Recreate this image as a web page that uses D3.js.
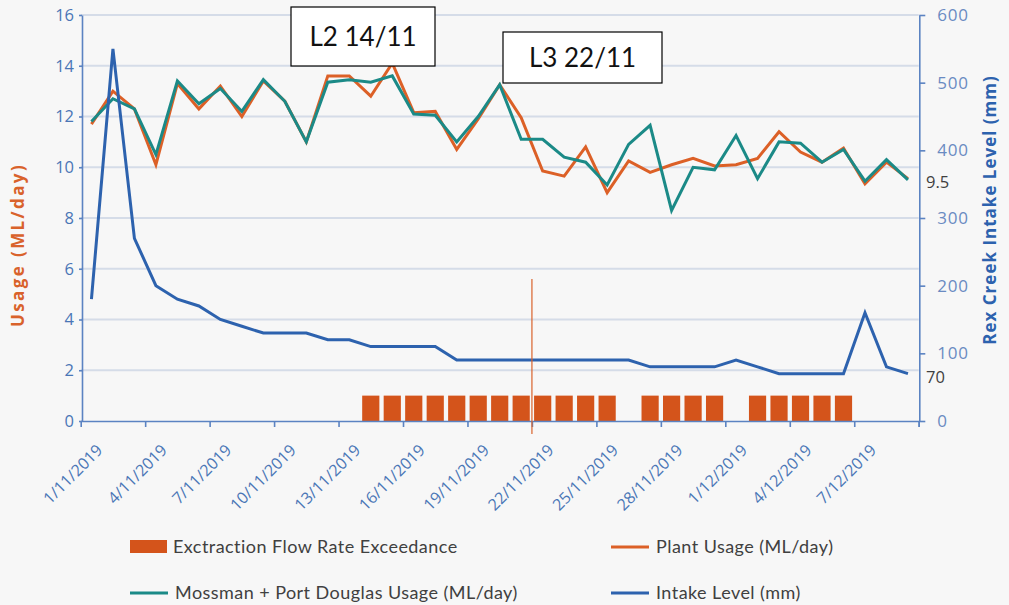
<!DOCTYPE html>
<html>
<head>
<meta charset="utf-8">
<script src="https://cdn.jsdelivr.net/npm/d3@7"></script>
<style>
  body { margin: 0; background: #f7f7f7; }
  svg { display: block; }
  .axis text { font-family: "Open Sans", sans-serif; }
</style>
</head>
<body>
<svg id="chart" width="1009" height="605"></svg>
<script>
const dates = [
  "1/11/2019", "2/11/2019", "3/11/2019", "4/11/2019", "5/11/2019", "6/11/2019", "7/11/2019",
  "8/11/2019", "9/11/2019", "10/11/2019", "11/11/2019", "12/11/2019", "13/11/2019", "14/11/2019",
  "15/11/2019", "16/11/2019", "17/11/2019", "18/11/2019", "19/11/2019", "20/11/2019", "21/11/2019",
  "22/11/2019", "23/11/2019", "24/11/2019", "25/11/2019", "26/11/2019", "27/11/2019", "28/11/2019",
  "29/11/2019", "30/11/2019", "1/12/2019", "2/12/2019", "3/12/2019", "4/12/2019", "5/12/2019",
  "6/12/2019", "7/12/2019", "8/12/2019", "9/12/2019"
];

const plantUsage = [
  11.7, 13.0, 12.3, 10.1, 13.3, 12.3, 13.2, 12.0, 13.4, 12.6,
  11.0, 13.6, 13.6, 12.8, 14.1, 12.15, 12.2, 10.7, 11.9, 13.25,
  11.95, 9.85, 9.65, 10.8, 9.0, 10.25, 9.8, 10.1, 10.35, 10.05,
  10.1, 10.35, 11.4, 10.6, 10.2, 10.75, 9.35, 10.2, 9.55
];

const mossmanUsage = [
  11.8, 12.7, 12.3, 10.5, 13.4, 12.5, 13.1, 12.2, 13.45, 12.6,
  11.0, 13.35, 13.45, 13.35, 13.6, 12.1, 12.05, 11.0, 12.0, 13.25,
  11.1, 11.1, 10.4, 10.2, 9.3, 10.9, 11.65, 8.3, 10.0, 9.9,
  11.25, 9.55, 11.0, 10.95, 10.2, 10.7, 9.45, 10.3, 9.5
];

const intakeLevel = [
  180, 550, 270, 200, 180, 170, 150, 140, 130, 130,
  130, 120, 120, 110, 110, 110, 110, 90, 90, 90,
  90, 90, 90, 90, 90, 90, 80, 80, 80, 80,
  90, 80, 70, 70, 70, 70, 160, 80, 70
];

// 1 = extraction flow rate exceeded that day
const exceedance = [
  0, 0, 0, 0, 0, 0, 0, 0, 0, 0,
  0, 0, 0, 1, 1, 1, 1, 1, 1, 1,
  1, 1, 1, 1, 1, 0, 1, 1, 1, 1,
  0, 1, 1, 1, 1, 1, 0, 0, 0
];

const usageTicks = [0, 2, 4, 6, 8, 10, 12, 14, 16];
const levelTicks = [0, 100, 200, 300, 400, 500, 600];
const markerDate = "22/11/2019";

const svg = d3.select("#chart");
const plot = { left: 80.7, right: 918.7, top: 15, bottom: 421 };

const orange = "#dc6027", teal = "#1b8a87", blue = "#2d62ae", barColor = "#d4541b";
const axisBlue = "#5b83c2", labelBlue = "#4a76b6";

const x = d3.scaleBand().domain(dates)
  .range([plot.left, plot.right])
  .paddingInner(0.2).paddingOuter(0.1);
const xTick = d3.scaleLinear().domain([0, dates.length]).range([plot.left, plot.right]);
const yL = d3.scaleLinear().domain([0, 16]).range([plot.bottom, plot.top]);
const yR = d3.scaleLinear().domain([0, 600]).range([plot.bottom, plot.top]);
const cx = d => x(d) + x.bandwidth() / 2;

svg.append("rect").attr("width", 1009).attr("height", 605).attr("fill", "#f7f7f7");

// gridlines
svg.append("g").selectAll("line")
  .data(usageTicks.slice(1))
  .join("line")
  .attr("x1", plot.left).attr("x2", plot.right)
  .attr("y1", d => yL(d)).attr("y2", d => yL(d))
  .attr("stroke", "#d5dce8").attr("stroke-width", 2);

// exceedance bars
svg.append("g").selectAll("rect")
  .data(dates.filter((d, i) => exceedance[i]))
  .join("rect")
  .attr("x", d => x(d)).attr("width", x.bandwidth())
  .attr("y", yL(1)).attr("height", yL(0) - yL(1))
  .attr("fill", barColor);

// axes
const xAxis = svg.append("g").attr("class", "axis")
  .attr("transform", `translate(0,${plot.bottom})`)
  .call(d3.axisBottom(xTick)
    .tickValues(d3.range(0, dates.length + 1, 3).concat([dates.length]))
    .tickFormat(i => dates[i] || "")
    .tickSize(6).tickSizeOuter(0));
xAxis.selectAll("text")
  .attr("text-anchor", "end")
  .attr("dy", 0)
  .attr("transform", "translate(16,24) rotate(-45)")
  .attr("font-size", 16).attr("fill", labelBlue);

const yAxisL = svg.append("g").attr("class", "axis")
  .attr("transform", `translate(${plot.left + 1.3},0)`)
  .call(d3.axisLeft(yL).tickValues(usageTicks).tickSize(3).tickPadding(5).tickSizeOuter(0));
yAxisL.selectAll("text").attr("font-size", 16.5).attr("fill", labelBlue);

const yAxisR = svg.append("g").attr("class", "axis")
  .attr("transform", `translate(${plot.right + 0.6},0)`)
  .call(d3.axisRight(yR).tickValues(levelTicks).tickSize(6).tickPadding(12).tickSizeOuter(0));
yAxisR.selectAll("text").attr("font-size", 17).attr("letter-spacing", 0.8).attr("fill", "#6a8bc2");

svg.selectAll(".axis path, .axis line").attr("stroke", axisBlue).attr("stroke-width", 1.6);

// lines
const line = (vals, scale) => d3.line()
  .x((d, i) => cx(dates[i]))
  .y(d => scale(d))(vals);

svg.append("path").attr("d", line(plantUsage, yL))
  .attr("fill", "none").attr("stroke", orange).attr("stroke-width", 3);
svg.append("path").attr("d", line(mossmanUsage, yL))
  .attr("fill", "none").attr("stroke", teal).attr("stroke-width", 3);
svg.append("path").attr("d", line(intakeLevel, yR))
  .attr("fill", "none").attr("stroke", blue).attr("stroke-width", 3);

// marker line at 22/11
const mx = xTick(dates.indexOf(markerDate));
svg.append("line")
  .attr("x1", mx).attr("x2", mx)
  .attr("y1", yL(5.6)).attr("y2", plot.bottom + 13)
  .attr("stroke", "#d9622b").attr("stroke-width", 1.2);

// end value labels
svg.append("text").attr("x", 926).attr("y", yL(mossmanUsage[mossmanUsage.length - 1]) + 8)
  .attr("font-family", "Open Sans, sans-serif").attr("font-size", 16.5).attr("fill", "#404040")
  .text(mossmanUsage[mossmanUsage.length - 1]);
svg.append("text").attr("x", 926).attr("y", yR(intakeLevel[intakeLevel.length - 1]) + 9)
  .attr("font-family", "Open Sans, sans-serif").attr("font-size", 16.5).attr("fill", "#404040")
  .text(intakeLevel[intakeLevel.length - 1]);

// axis titles
svg.append("text")
  .attr("transform", "translate(24,245) rotate(-90)")
  .attr("text-anchor", "middle")
  .attr("font-family", "Open Sans, sans-serif").attr("font-weight", "bold")
  .attr("font-size", 17).attr("letter-spacing", 2.4).attr("fill", "#d9622b")
  .text("Usage (ML/day)");
svg.append("text")
  .attr("transform", "translate(996,210) rotate(-90)")
  .attr("text-anchor", "middle")
  .attr("font-family", "Open Sans, sans-serif").attr("font-weight", "bold")
  .attr("font-size", 17).attr("letter-spacing", 1).attr("fill", "#2d62ae")
  .text("Rex Creek Intake Level (mm)");

// annotation boxes
const notes = [
  { label: "L2 14/11", x: 291, y: 7, w: 144, h: 59 },
  { label: "L3 22/11", x: 503, y: 32, w: 159, h: 51 }
];
const note = svg.append("g").selectAll("g").data(notes).join("g")
  .attr("transform", d => `translate(${d.x},${d.y})`);
note.append("rect")
  .attr("width", d => d.w).attr("height", d => d.h)
  .attr("fill", "#ffffff").attr("stroke", "#000000").attr("stroke-width", 1.2);
note.append("text")
  .attr("x", d => d.w / 2).attr("y", d => d.h / 2 + 9)
  .attr("text-anchor", "middle")
  .attr("font-family", "Lato, sans-serif").attr("font-size", 26).attr("fill", "#111")
  .text(d => d.label);

// legend
const legendItems = [
  { label: "Exctraction Flow Rate Exceedance", type: "bar", color: barColor, x: 130, y: 547 },
  { label: "Plant Usage (ML/day)", type: "line", color: orange, x: 611, y: 547 },
  { label: "Mossman + Port Douglas Usage (ML/day)", type: "line", color: teal, x: 130, y: 593 },
  { label: "Intake Level (mm)", type: "line", color: blue, x: 611, y: 593 }
];
const lg = svg.append("g").selectAll("g").data(legendItems).join("g")
  .attr("transform", d => `translate(${d.x},${d.y})`);
lg.filter(d => d.type === "bar").append("rect")
  .attr("x", 0).attr("y", -7).attr("width", 37).attr("height", 13).attr("fill", d => d.color);
lg.filter(d => d.type === "line").append("line")
  .attr("x1", 0).attr("x2", 38).attr("y1", 0).attr("y2", 0)
  .attr("stroke", d => d.color).attr("stroke-width", 3);
lg.append("text")
  .attr("x", d => d.type === "bar" ? 43 : 45).attr("y", 6)
  .attr("font-family", "Lato, sans-serif").attr("font-size", 18).attr("letter-spacing", 0.45)
  .attr("fill", "#404040")
  .text(d => d.label);
</script>
</body>
</html>
